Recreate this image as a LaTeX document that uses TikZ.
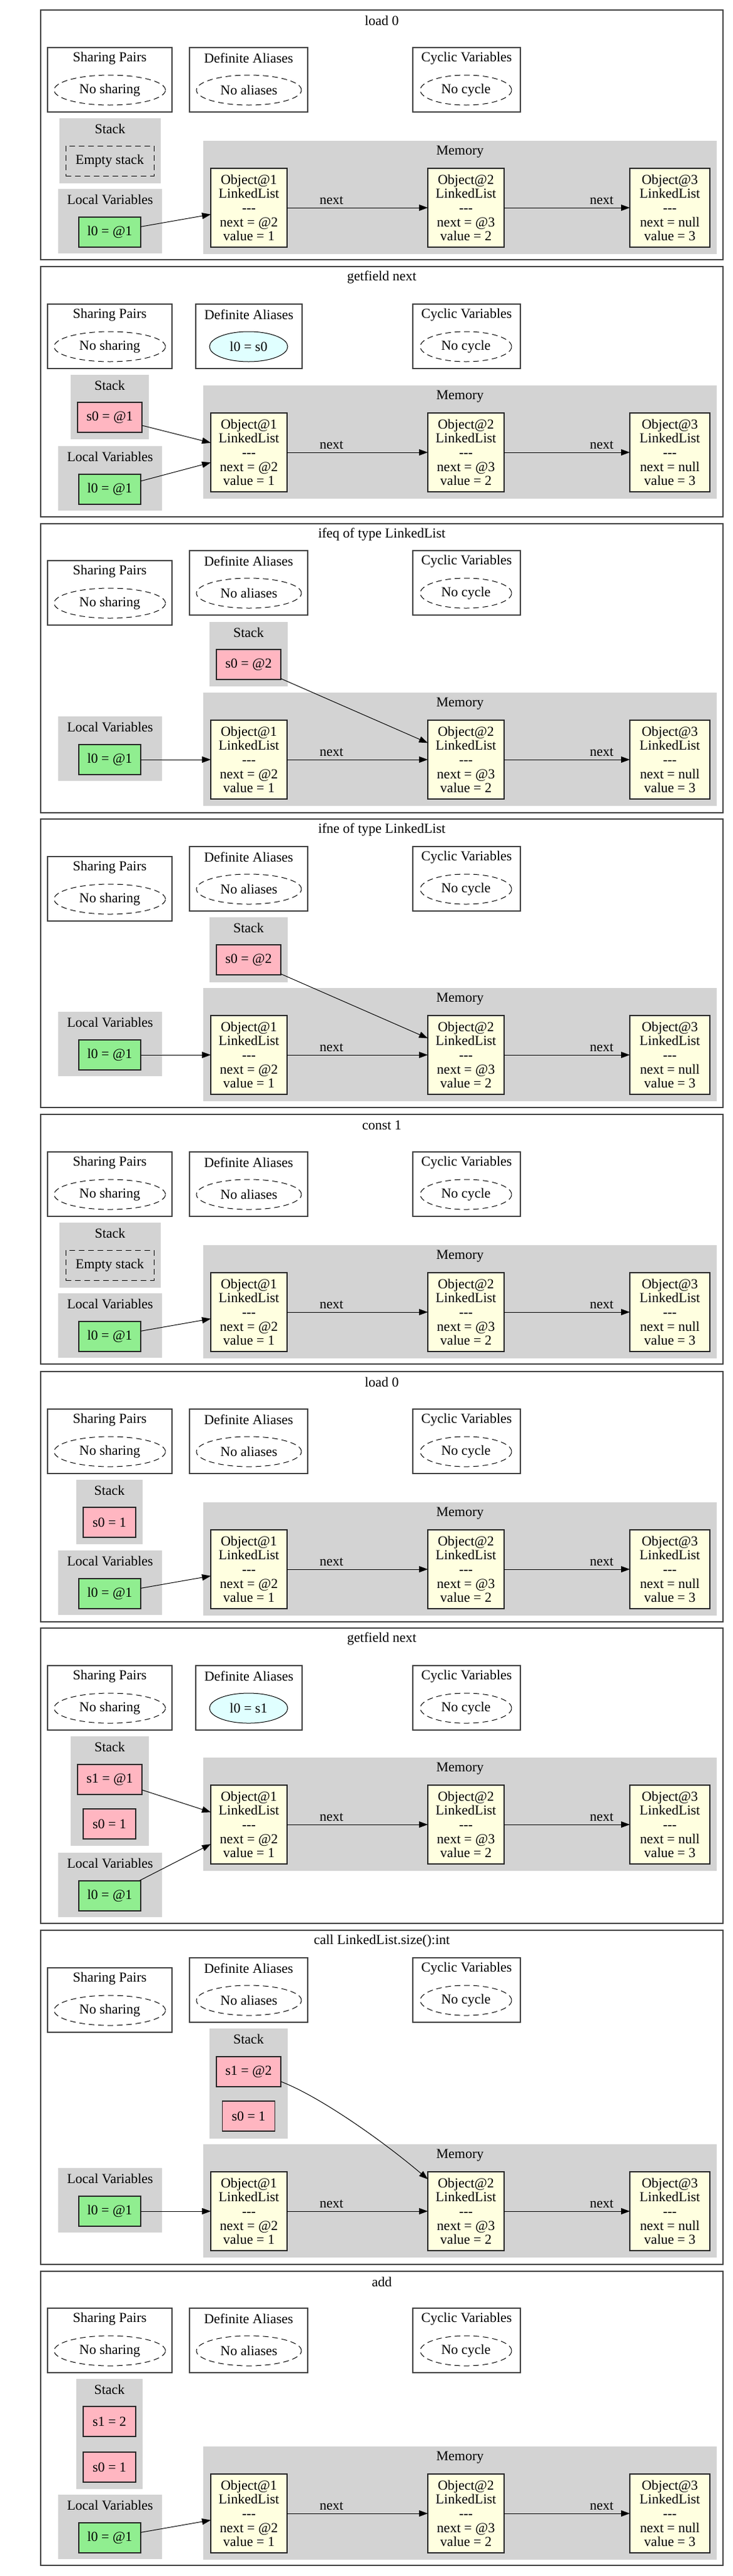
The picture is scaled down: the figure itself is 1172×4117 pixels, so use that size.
\documentclass[tikz,border=0pt]{standalone}
\usepackage{fontspec}
\setmainfont{Liberation Serif}
\usetikzlibrary{shapes.geometric,arrows.meta}
\definecolor{lgrey}{HTML}{D3D3D3}
\definecolor{lpink}{HTML}{FFB6C1}
\definecolor{lgreen}{HTML}{90EE90}
\definecolor{lyellow}{HTML}{FFFFE0}
\definecolor{lcyan}{HTML}{E0FFFF}
\newcommand\dashes{-\kern0pt-\kern0pt-}
\newcommand\PFrame[4]{% prefix, top, bottom, title
  \draw[pframe] (65,#2) rectangle (1156,#3);
  \node[lbl] (#1title) at (610.5,#2+17) {#4};}
\newcommand\PShare[2]{%
  \draw[pframe] (76,#2) rectangle (275,#2+103);
  \node[lbl] (#1shl) at (175.5,#2+17) {Sharing Pairs};
  \node[dashell, minimum width=89pt] (#1sh) at (175.5,#2+68) {No sharing};}
\newcommand\PAliasNone[2]{%
  \draw[pframe] (303,#2) rectangle (492,#2+103);
  \node[lbl] (#1dal) at (397.5,#2+17) {Definite Aliases};
  \node[dashell, minimum width=84pt] (#1da) at (398,#2+68) {No aliases};}
\newcommand\PAliasOne[3]{%
  \draw[pframe] (313,#2) rectangle (483,#2+103);
  \node[lbl] (#1dal) at (398,#2+17) {Definite Aliases};
  \node[cyanell] (#1da) at (397.5,#2+68) {#3};}
\newcommand\PCycle[2]{%
  \draw[pframe] (660,#2) rectangle (832,#2+103);
  \node[lbl] (#1cyl) at (746,#2+17) {Cyclic Variables};
  \node[dashell, minimum width=73pt] (#1cy) at (745,#2+68) {No cycle};}
\newcommand\PClus[6]{% name, x1, y1, x2, y2, label
  \fill[clus] (#2,#3) rectangle (#4,#5);
  \node[lbl] (#1) at ({(#2+#4)/2},#3+17) {#6};}
\newcommand\PLocal[2]{%
  \PClus{#1lvl}{93}{#2}{259}{#2+103}{Local Variables}
  \node[loc] (#1l0) at (175.5,#2+69) {l0 = @1};}
\newcommand\PMem[2]{%
  \fill[clus] (325,#2) rectangle (1146,#2+181);
  \node[lbl] (#1ml) at (735.5,#2+18) {Memory};
  \node[objbox] (#1o1) at (398,#2+107) {Object@1\\LinkedList\\\dashes\\next = @2\\value = 1};
  \node[objbox] (#1o2) at (745,#2+107) {Object@2\\LinkedList\\\dashes\\next = @3\\value = 2};
  \node[objbox, minimum width=64pt] (#1o3) at (1071,#2+107) {Object@3\\LinkedList\\\dashes\\next = null\\value = 3};
  \draw[arr] (#1o1) -- node[edgelbl, pos=0.316] (#1n1) {next} (#1o2);
  \draw[arr] (#1o2) -- node[edgelbl, pos=0.776] (#1n2) {next} (#1o3);}
\begin{document}
\begin{tikzpicture}[x=0.5pt,y=-0.5pt,
  every node/.style={font=\fontsize{11}{11.35}\selectfont},
  pframe/.style={draw=black!75, line width=0.65pt},
  clus/.style={fill=lgrey},
  lbl/.style={inner sep=0pt, outer sep=0pt},
  dashell/.style={ellipse, draw=black, line width=0.5pt, dash pattern=on 4.5pt off 3pt, minimum height=24pt, inner sep=0pt, outer sep=0pt},
  cyanell/.style={ellipse, draw=black, line width=0.5pt, fill=lcyan, minimum width=62.5pt, minimum height=24pt, inner sep=0pt, outer sep=0pt},
  objbox/.style={rectangle, draw=black!85, line width=0.6pt, fill=lyellow, minimum width=61pt, minimum height=63pt, inner sep=0pt, outer sep=0pt, align=center},
  stk/.style={rectangle, draw=black!85, line width=0.6pt, fill=lpink, minimum width=51.5pt, minimum height=24pt, inner sep=0pt, outer sep=0pt},
  stknum/.style={stk, minimum width=42pt},
  loc/.style={rectangle, draw=black!85, line width=0.6pt, fill=lgreen, minimum width=49.5pt, minimum height=24pt, inner sep=0pt, outer sep=0pt},
  emptystk/.style={rectangle, draw=black, line width=0.5pt, dash pattern=on 4.5pt off 3pt, minimum width=70.5pt, minimum height=24pt, inner sep=0pt, outer sep=0pt},
  arr/.style={-{Triangle[length=7pt,width=5pt]}, line width=0.5pt, draw=black},
  edgelbl/.style={anchor=base, yshift=3pt, inner sep=0pt, outer sep=0pt}]
\useasboundingbox[fill=white] (0,0) rectangle (1172,4117);

% ---------- panel 1: load 0
\PFrame{p1}{16}{415}{load 0}
\PShare{p1}{76}\PAliasNone{p1}{76}\PCycle{p1}{76}
\PClus{p1stl}{95}{189}{257}{293}{Stack}
\node[emptystk] (p1s) at (175.5,257) {Empty stack};
\PLocal{p1}{302}
\PMem{p1}{225}
\draw[arr] (p1l0) -- (p1o1);

% ---------- panel 2: getfield next
\PFrame{p2}{426}{826}{getfield next}
\PShare{p2}{486}\PAliasOne{p2}{486}{l0 = s0}\PCycle{p2}{486}
\PClus{p2stl}{113}{599}{238}{702}{Stack}
\node[stk] (p2s0) at (175.5,667) {s0 = @1};
\PLocal{p2}{713}
\PMem{p2}{616}
\draw[arr] (p2s0) -- (p2o1);
\draw[arr] (p2l0) -- (p2o1);

% ---------- panel 3: ifeq
\PFrame{p3}{837}{1299}{ifeq of type LinkedList}
\PShare{p3}{896}\PAliasNone{p3}{880}\PCycle{p3}{880}
\PClus{p3stl}{335}{994}{460}{1097}{Stack}
\node[stk] (p3s0) at (397.5,1062) {s0 = @2};
\PLocal{p3}{1145}
\PMem{p3}{1107}
\draw[arr] (p3s0) -- (p3o2);
\draw[arr] (p3l0) -- (p3o1);

% ---------- panel 4: ifne
\PFrame{p4}{1309}{1770}{ifne of type LinkedList}
\PShare{p4}{1369}\PAliasNone{p4}{1353}\PCycle{p4}{1353}
\PClus{p4stl}{335}{1466}{460}{1570}{Stack}
\node[stk] (p4s0) at (397.5,1534) {s0 = @2};
\PLocal{p4}{1617}
\PMem{p4}{1579}
\draw[arr] (p4s0) -- (p4o2);
\draw[arr] (p4l0) -- (p4o1);

% ---------- panel 5: const 1
\PFrame{p5}{1781}{2180}{const 1}
\PShare{p5}{1841}\PAliasNone{p5}{1841}\PCycle{p5}{1841}
\PClus{p5stl}{95}{1954}{257}{2058}{Stack}
\node[emptystk] (p5s) at (175.5,2022) {Empty stack};
\PLocal{p5}{2067}
\PMem{p5}{1990}
\draw[arr] (p5l0) -- (p5o1);

% ---------- panel 6: load 0
\PFrame{p6}{2192}{2592}{load 0}
\PShare{p6}{2252}\PAliasNone{p6}{2252}\PCycle{p6}{2252}
\PClus{p6stl}{122}{2365}{228}{2468}{Stack}
\node[stknum] (p6s0) at (175,2433) {s0 = 1};
\PLocal{p6}{2478}
\PMem{p6}{2401}
\draw[arr] (p6l0) -- (p6o1);

% ---------- panel 7: getfield next
\PFrame{p7}{2602}{3074}{getfield next}
\PShare{p7}{2662}\PAliasOne{p7}{2662}{l0 = s1}\PCycle{p7}{2662}
\PClus{p7stl}{113}{2775}{238}{2950}{Stack}
\node[stk] (p7s1) at (175.5,2844) {s1 = @1};
\node[stknum] (p7s0) at (175,2915) {s0 = 1};
\PLocal{p7}{2961}
\PMem{p7}{2809}
\draw[arr] (p7s1) -- (p7o1);
\draw[arr] (p7l0) -- (p7o1);

% ---------- panel 8: call LinkedList.size():int
\PFrame{p8}{3085}{3619}{call LinkedList.size():int}
\PShare{p8}{3145}\PAliasNone{p8}{3129}\PCycle{p8}{3129}
\PClus{p8stl}{335}{3242}{460}{3418}{Stack}
\node[stk] (p8s1) at (397.5,3311) {s1 = @2};
\node[stknum] (p8s0) at (397.5,3382) {s0 = 1};
\PLocal{p8}{3465}
\PMem{p8}{3427}
\draw[arr] (p8s1.-17) .. controls (510,3350) and (610,3420) .. (p8o2.140);
\draw[arr] (p8l0) -- (p8o1);

% ---------- panel 9: add
\PFrame{p9}{3630}{4100}{add}
\PShare{p9}{3689}\PAliasNone{p9}{3689}\PCycle{p9}{3689}
\PClus{p9stl}{122}{3802}{228}{3978}{Stack}
\node[stknum] (p9s1) at (175,3870) {s1 = 2};
\node[stknum] (p9s0) at (175,3943) {s0 = 1};
\PLocal{p9}{3987}
\PMem{p9}{3910}
\draw[arr] (p9l0) -- (p9o1);
\end{tikzpicture}
\end{document}
